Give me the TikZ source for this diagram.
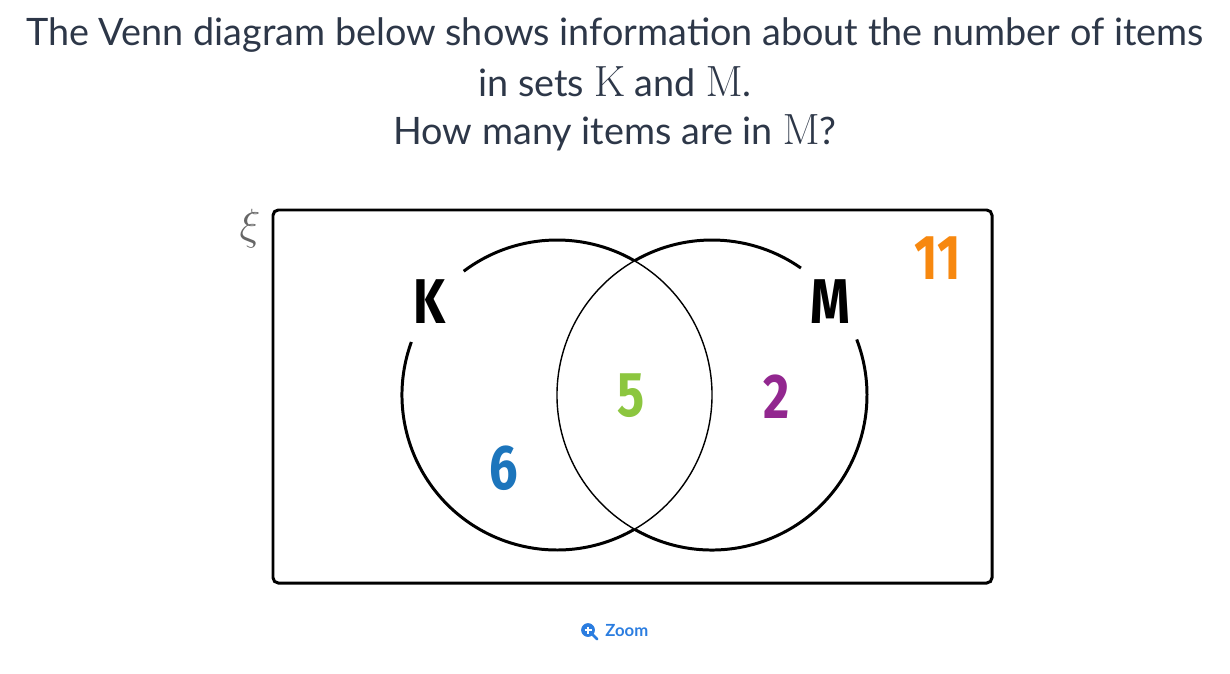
\documentclass[tikz,border=0pt]{standalone}
\usepackage[no-math]{fontspec}
\setmainfont{Lato}
\newfontfamily\labelfont{Fira Sans}
\usetikzlibrary{positioning}
\definecolor{titlegrey}{HTML}{2D3748}
\definecolor{numorange}{HTML}{F7880F}
\definecolor{numgreen}{HTML}{8CC63F}
\definecolor{numpurple}{HTML}{92278F}
\definecolor{numblue}{HTML}{1C75BC}
\definecolor{zoomblue}{HTML}{2B7DE0}
\newcommand{\setname}[1]{{\fontsize{25}{25}\selectfont$\mathrm{#1}$}}

\begin{document}
\begin{tikzpicture}[x=0.02cm, y=0.02cm, every node/.style={inner sep=0pt}]
  \tikzset{
    title/.style={font=\fontsize{21.5}{25}\selectfont, text=titlegrey},
    setlabel/.style={font=\labelfont\bfseries\fontsize{36}{40}\selectfont, xscale=0.8},
    outer/.style={line width=1.7pt},
    inner/.style={line width=0.8pt}
  }
  \useasboundingbox (0,0) rectangle (1230,-673);
  % question
  \node[title] (q1) at (615,-35) {The Venn diagram below shows information about the number of items};
  \node[title] (q2) at (615,-82) {in sets \setname{K} and \setname{M}.};
  \node[title] (q3) at (615,-133) {How many items are in \setname{M}?};
  % universal set
  \node[text=black!60, font=\fontsize{25}{28}\selectfont] (xi) at (250,-229) {$\xi$};
  \draw[line width=1.7pt, rounded corners=3pt] (273,-210) rectangle (992,-583);
  % circles
  \coordinate (kc) at (557,-395);
  \coordinate (mc) at (712,-395);
  \draw[outer] (kc) ++(60:155) arc[start angle=60, end angle=127, radius=155];
  \draw[outer] (kc) ++(160:155) arc[start angle=160, end angle=300, radius=155];
  \draw[inner] (kc) ++(-60:155) arc[start angle=-60, end angle=60, radius=155];
  \draw[outer] (mc) ++(55:155) arc[start angle=55, end angle=120, radius=155];
  \draw[outer] (mc) ++(240:155) arc[start angle=240, end angle=381, radius=155];
  \draw[inner] (mc) ++(120:155) arc[start angle=120, end angle=240, radius=155];
  % labels
  \node[setlabel] (klabel) at (430,-302) {K};
  \node[setlabel] (mlabel) at (830,-302) {M};
  \node[setlabel, text=numorange] (outside) at (938,-258) {11};
  \node[setlabel, text=numgreen] (both) at (631,-396) {5};
  \node[setlabel, text=numpurple] (monly) at (777,-397) {2};
  \node[setlabel, text=numblue] (konly) at (504,-468) {6};
  % zoom link
  \draw[zoomblue, fill=zoomblue] (588,-630) circle (6.5);
  \draw[zoomblue, line width=1.6pt, line cap=round] (592.5,-634.5) -- (597,-639);
  \draw[white, line width=0.9pt] (584.5,-630) -- (591.5,-630) (588,-626.5) -- (588,-633.5);
  \node[anchor=west, text=zoomblue, font=\bfseries\fontsize{9.5}{11}\selectfont] (zoom) at (605,-631) {Zoom};
\end{tikzpicture}
\end{document}
